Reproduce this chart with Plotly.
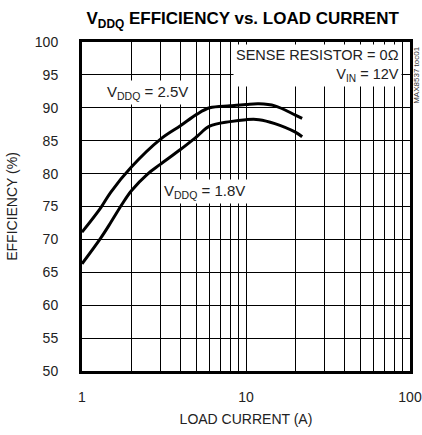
import plotly.graph_objects as go

# Data
current_25 = [1.0, 1.3, 1.5, 2.0, 3.0, 4.0, 5.0, 6.0, 8.0, 10.0, 12.0, 15.0, 20.0, 22.0]
eff_25 = [71.1, 74.8, 77.2, 81.0, 85.2, 87.3, 89.0, 90.0, 90.3, 90.5, 90.6, 90.3, 88.9, 88.4]

current_18 = [1.0, 1.3, 1.5, 1.75, 2.0, 2.5, 3.0, 4.0, 5.0, 6.0, 8.0, 10.0, 12.0, 15.0, 20.0, 22.0]
eff_18 = [66.3, 70.2, 72.6, 75.3, 77.4, 79.9, 81.4, 83.7, 85.6, 87.2, 87.9, 88.2, 88.2, 87.6, 86.3, 85.6]

x_ticks = [1, 10, 100]
x_minor = [2, 3, 4, 5, 6, 7, 8, 9, 20, 30, 40, 50, 60, 70, 80, 90]
y_ticks = [50, 55, 60, 65, 70, 75, 80, 85, 90, 95, 100]

FONT = "Liberation Sans, Arial, sans-serif"
TXT = "#222"

fig = go.Figure()
fig.add_trace(go.Scatter(x=current_25, y=eff_25, mode="lines", line=dict(color="black", width=3, shape="spline"), showlegend=False, hoverinfo="skip"))
fig.add_trace(go.Scatter(x=current_18, y=eff_18, mode="lines", line=dict(color="black", width=3, shape="spline"), showlegend=False, hoverinfo="skip"))

fig.update_layout(
    width=422, height=435,
    margin=dict(l=82, r=12, t=42, b=64),
    paper_bgcolor="white", plot_bgcolor="white",
    font=dict(family=FONT, color=TXT, size=14),
    title=dict(text="<b>V<sub>DDQ</sub> EFFICIENCY vs. LOAD CURRENT</b>", x=0.575, xanchor="center", y=0.958, yanchor="middle",
               font=dict(family=FONT, size=17, color="black")),
    xaxis=dict(type="log", range=[0, 2], tickvals=x_ticks, ticktext=[str(v) for v in x_ticks],
               showgrid=True, gridcolor="black", gridwidth=1,
               minor=dict(tickvals=x_minor, showgrid=True, gridcolor="black", gridwidth=1, ticks=""),
               showline=True, linecolor="black", linewidth=3, mirror=True, ticks="", zeroline=False,
               automargin=False, ticklabelstandoff=11, ticklabeloverflow="allow",
               title=dict(text="LOAD CURRENT (A)", font=dict(size=14), standoff=11),
               tickfont=dict(size=14)),
    yaxis=dict(range=[50, 100], tickvals=y_ticks, showgrid=True, gridcolor="black", gridwidth=1,
               showline=True, linecolor="black", linewidth=3, mirror=True, ticks="", zeroline=False,
               automargin=False, ticklabelstandoff=18,
               title=dict(text="EFFICIENCY (%)", font=dict(size=14), standoff=14),
               tickfont=dict(size=14)),
)

fig.add_annotation(x=0.40, y=92.4, xref="x", yref="y", text="V<sub>DDQ</sub> = 2.5V", showarrow=False,
                   bgcolor="white", font=dict(size=15, color=TXT), borderpad=2)
fig.add_annotation(x=0.745, y=77.3, xref="x", yref="y", text="V<sub>DDQ</sub> = 1.8V", showarrow=False,
                   bgcolor="white", font=dict(size=15, color=TXT), borderpad=2)
fig.add_annotation(x=0.975, y=0.994, xref="paper", yref="paper", xanchor="right", yanchor="top", align="right",
                   text="SENSE RESISTOR = 0Ω<br>V<sub>IN</sub> = 12V", showarrow=False,
                   bgcolor="white", font=dict(size=14.5, color=TXT), borderpad=2)
fig.add_annotation(x=1.0, y=0.99, xref="paper", yref="paper", xanchor="center", yanchor="top", xshift=7,
                   text="MAX8537 toc01", textangle=-90, showarrow=False, font=dict(size=8, color="#333"))

fig.write_html("out.html", config={"displayModeBar": False},
               post_script="document.body.style.margin='0';")
